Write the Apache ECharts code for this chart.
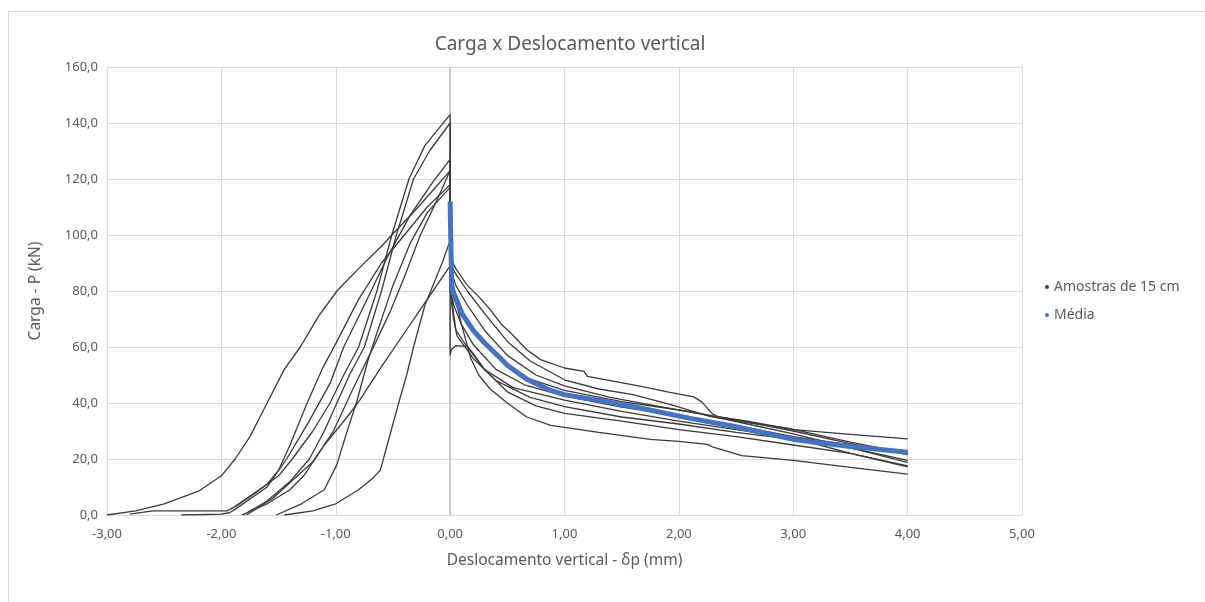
<!DOCTYPE html>
<html>
<head>
<meta charset="utf-8">
<script src="https://cdn.jsdelivr.net/npm/echarts@6/dist/echarts.min.js"></script>
<style>
html,body{margin:0;padding:0;background:#fff;}
#chart{width:1205px;height:602px;}
</style>
</head>
<body>
<div id="chart"></div>
<script>
// ---- DATA ----
const chartTitle = "Carga x Deslocamento vertical";
const xAxisTitle = "Deslocamento vertical - \u03b4p (mm)";
const yAxisTitle = "Carga - P (kN)";
const seriesNames = ["Amostras de 15 cm", "Média"];

// Amostras (deslocamento mm, carga kN): ramo pré-pico + ramo pós-pico
const amostra1 = [[-2.8,0.3],[-2.6,1.5],[-2.2,1.5],[-1.95,1.5],[-1.88,3],[-1.7,8],[-1.5,14],[-1.38,20],[-1.2,30],[-1.05,40],[-0.93,50],[-0.8,60],[-0.64,80],[-0.51,100],[-0.36,120],[-0.22,132],[0,143],
  [0,92],[0.05,88],[0.15,82],[0.25,78],[0.35,73.4],[0.45,68],[0.53,65],[0.67,59],[0.79,55.5],[1.0,52.5],[1.17,51.3],[1.2,49.5],[1.4,48],[1.67,45.9],[1.9,44],[2.13,42.2],[2.2,40.4],[2.29,36.2],[2.35,35],[2.6,33.5],[3.0,30.5],[3.5,28.8],[4.0,27.2]];
const amostra2 = [[-1.81,0],[-1.6,5],[-1.4,12],[-1.23,20],[-1.1,30],[-0.99,40],[-0.88,50],[-0.75,60],[-0.6,80],[-0.47,100],[-0.32,120],[-0.18,130],[0,140],
  [0,90],[0.05,86],[0.15,80],[0.3,72],[0.5,62],[0.7,55],[1.0,48.3],[1.3,45],[1.6,43],[1.93,39.4],[2.27,35.2],[2.6,33],[2.95,31],[3.5,26],[4.0,22]];
const amostra3 = [[-2.35,0],[-2.0,0.3],[-1.93,0.8],[-1.88,2],[-1.6,10],[-1.43,20],[-1.24,33],[-1.05,47],[-0.93,60],[-0.75,75],[-0.55,92],[-0.35,107],[-0.15,119],[0,127],
  [0,88],[0.05,82],[0.15,75],[0.3,66],[0.5,57],[0.75,50],[1.0,46.1],[1.4,42],[1.8,39],[2.2,36],[2.6,32.5],[3.0,29],[3.5,24],[4.0,18.8]];
const amostra4 = [[-3.0,0],[-2.75,1.5],[-2.5,4],[-2.2,8.5],[-2.0,14],[-1.88,20],[-1.75,28],[-1.6,40],[-1.45,52],[-1.31,60],[-1.15,71],[-0.99,80],[-0.8,88],[-0.6,96],[-0.51,100],[-0.3,109],[-0.15,116],[0,123],
  [0,86],[0.04,78],[0.1,68],[0.18,56],[0.25,50],[0.35,45],[0.5,40],[0.67,35],[0.88,32],[1.3,29.5],[1.75,27],[2.0,26.3],[2.25,25.2],[2.3,24.2],[2.55,21.2],[3.0,19.5],[3.5,17],[4.0,14.6]];
const amostra5 = [[-1.78,0],[-1.55,6],[-1.2,19],[-1.02,30],[-0.85,45],[-0.67,60],[-0.52,73],[-0.4,85],[-0.26,100],[-0.12,112],[0,123],
  [0,86],[0.04,80],[0.12,72],[0.25,64],[0.45,55],[0.7,48.5],[1.0,44.5],[1.5,40.5],[2.0,37.5],[2.5,34],[3.0,30],[3.5,25.5],[4.0,21.6]];
const amostra6 = [[-1.88,3],[-1.6,11],[-1.5,16],[-1.4,25],[-1.25,40],[-1.12,52],[-0.99,62],[-0.8,77],[-0.6,90],[-0.4,100],[-0.2,110],[0,118],
  [0,84],[0.03,75],[0.1,68],[0.2,61],[0.4,52],[0.65,46.5],[1.0,42.5],[1.5,38.5],[2.0,35.5],[2.5,32],[3.0,28],[3.5,25],[4.0,22.2]];
const amostra7 = [[-1.52,0],[-1.3,4],[-1.1,9],[-0.99,18],[-0.9,30],[-0.82,40],[-0.72,55],[-0.64,65],[-0.5,82],[-0.35,97],[-0.2,108],[0,117],
  [0,82],[0.03,72],[0.05,66],[0.15,60],[0.3,52],[0.55,45.5],[1.0,41],[1.5,37],[2.0,33.5],[2.5,30.5],[3.0,27.5],[3.5,22],[4.0,17.5]];
const amostra8 = [[-1.45,0],[-1.2,1.5],[-1.0,4],[-0.8,9],[-0.68,13],[-0.61,16],[-0.55,25],[-0.45,40],[-0.38,50],[-0.32,60],[-0.22,75],[-0.15,82],[-0.07,90],[0,98],
  [0,57],[0.01,59],[0.05,60.5],[0.15,60.2],[0.2,57.8],[0.3,52],[0.5,44],[0.75,39],[1.0,36.3],[1.5,33.5],[2.0,30.5],[2.5,28],[3.0,25],[3.5,22],[4.0,17.2]];
const amostra9 = [[-1.82,0],[-1.6,4],[-1.4,9],[-1.28,14],[-1.1,25],[-0.9,35],[-0.79,41],[-0.6,53],[-0.4,65],[-0.2,77],[0,89],
  [0,80],[0.03,70],[0.06,64],[0.2,56],[0.4,48],[0.7,42],[1.0,38.7],[1.5,35],[2.0,32.5],[2.5,29.5],[3.0,27],[3.5,24],[4.0,19.5]];
const amostras = [amostra1, amostra2, amostra3, amostra4, amostra5, amostra6, amostra7, amostra8, amostra9];

const media = [[0,112],[0.005,100],[0.01,90],[0.015,82],[0.03,79],[0.1,72],[0.2,66],[0.3,61.5],[0.44,56],[0.5,53.5],[0.67,48.5],[0.88,44.5],[1.0,43],[1.37,40.5],[1.67,38.1],[2.1,34.5],[2.5,31.5],[3.0,27],[3.5,24.5],[4.0,22.4]];

const xTicks = {min: -3, max: 5, interval: 1};
const yTicks = {min: 0, max: 160, interval: 20};

// ---- CHART ----
const FONT = "Noto Sans";
const TXT = "#595959";
const chart = echarts.init(document.getElementById('chart'), null, {renderer: 'canvas'});

const series = amostras.map((d, i) => ({
  name: seriesNames[0],
  type: 'line',
  data: d,
  showSymbol: false,
  symbol: 'circle',
  symbolSize: 3,
  smooth: false,
  lineStyle: {color: '#3a3a3a', width: 1.3},
  itemStyle: {color: '#3a3a3a'},
  z: 2,
  silent: true,
  markLine: i === 0 ? {
    silent: true, symbol: ['none','none'], label: {show: false},
    lineStyle: {color: '#bfbfbf', width: 1.5, type: 'solid'},
    data: [{xAxis: 0}], z: 1
  } : undefined
}));
series.push({
  name: seriesNames[1],
  type: 'line',
  data: media,
  showSymbol: false,
  symbol: 'circle',
  symbolSize: 5,
  lineStyle: {color: '#4472C4', width: 5},
  itemStyle: {color: '#4472C4'},
  z: 3,
  silent: true
});

chart.setOption({
  animation: false,
  backgroundColor: '#fff',
  title: {
    text: chartTitle, left: 565, top: 30, textAlign: 'center',
    textStyle: {fontFamily: FONT, fontSize: 19, fontWeight: 'normal', color: TXT}
  },
  legend: {
    orient: 'vertical', left: 1040, top: 275, itemGap: 14,
    itemWidth: 4, itemHeight: 4,
    textStyle: {fontFamily: FONT, fontSize: 14, color: TXT},
    data: [
      {name: seriesNames[0], icon: 'circle', itemStyle: {color: '#404040'}},
      {name: seriesNames[1], icon: 'circle', itemStyle: {color: '#4472C4'}}
    ]
  },
  grid: {left: 107, right: 183, top: 67, bottom: 87, containLabel: false},
  xAxis: {
    type: 'value', min: xTicks.min, max: xTicks.max, interval: xTicks.interval,
    name: xAxisTitle, nameLocation: 'middle', nameGap: 38,
    nameTextStyle: {fontFamily: FONT, fontSize: 15.5, color: TXT},
    axisLine: {show: true, onZero: false, lineStyle: {color: '#d9d9d9', width: 1}},
    axisTick: {show: false},
    axisLabel: {fontFamily: FONT, fontSize: 13, color: TXT, margin: 13,
      formatter: v => v.toFixed(2).replace('.', ',')},
    splitLine: {show: true, lineStyle: {color: '#d9d9d9', width: 1}}
  },
  yAxis: {
    type: 'value', min: yTicks.min, max: yTicks.max, interval: yTicks.interval,
    name: yAxisTitle, nameLocation: 'middle', nameGap: 63, nameRotate: 90,
    nameTextStyle: {fontFamily: FONT, fontSize: 15.5, color: TXT},
    axisLine: {show: false},
    axisTick: {show: false},
    axisLabel: {fontFamily: FONT, fontSize: 13, color: TXT, margin: 9,
      formatter: v => v.toFixed(1).replace('.', ',')},
    splitLine: {show: true, lineStyle: {color: '#d9d9d9', width: 1}}
  },
  graphic: [{
    type: 'rect', silent: true, z: -10,
    shape: {x: 8.5, y: 11.5, width: 1300, height: 700},
    style: {fill: 'none', stroke: '#d9d9d9', lineWidth: 1}
  }],
  series: series
});
</script>
</body>
</html>
